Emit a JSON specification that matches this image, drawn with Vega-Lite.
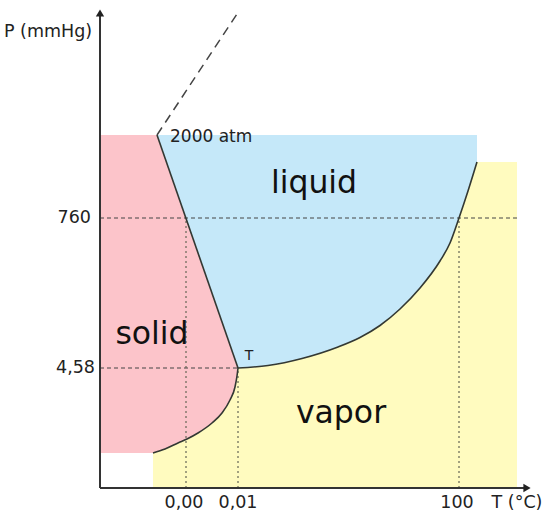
{
  "$schema": "https://vega.github.io/schema/vega-lite/v6.json",
  "width": 550,
  "height": 518,
  "autosize": {"type": "none"},
  "padding": 0,
  "background": "white",
  "config": {"view": {"stroke": null}, "text": {"font": "DejaVu Sans"}},
  "datasets": {
    "yellow": [{"x1": 53, "x2": 417, "y1": 0, "y2": 326}],
    "pink": [
      {"X": 0, "bottom": 35, "top": 353},
      {"X": 53, "bottom": 35, "top": 353},
      {"X": 65, "bottom": 39, "top": 353},
      {"X": 78, "bottom": 45, "top": 353},
      {"X": 87, "bottom": 49, "top": 353},
      {"X": 98, "bottom": 55, "top": 353},
      {"X": 112, "bottom": 65, "top": 353},
      {"X": 122, "bottom": 75, "top": 353},
      {"X": 130, "bottom": 88, "top": 353},
      {"X": 135, "bottom": 101, "top": 353},
      {"X": 137, "bottom": 112, "top": 353},
      {"X": 138, "bottom": 120, "top": 353}
    ],
    "blueWedge": [
      {"X": 57, "bottom": 353, "top": 353},
      {"X": 138, "bottom": 120, "top": 353}
    ],
    "blueCurve": [
      {"X": 138, "bottom": 120, "top": 353},
      {"X": 168, "bottom": 122.5, "top": 353},
      {"X": 202, "bottom": 129.5, "top": 353},
      {"X": 238, "bottom": 141, "top": 353},
      {"X": 260, "bottom": 150.5, "top": 353},
      {"X": 280, "bottom": 162.5, "top": 353},
      {"X": 300, "bottom": 179, "top": 353},
      {"X": 320, "bottom": 200, "top": 353},
      {"X": 340, "bottom": 227, "top": 353},
      {"X": 350, "bottom": 245, "top": 353},
      {"X": 359, "bottom": 270, "top": 353},
      {"X": 368, "bottom": 297, "top": 353},
      {"X": 377, "bottom": 326, "top": 353}
    ],
    "curves": [
      {"curve": "solid-liquid", "X": 57, "Y": 353},
      {"curve": "solid-liquid", "X": 138, "Y": 120},
      {"curve": "solid-vapor", "X": 53, "Y": 35},
      {"curve": "solid-vapor", "X": 65, "Y": 39},
      {"curve": "solid-vapor", "X": 78, "Y": 45},
      {"curve": "solid-vapor", "X": 87, "Y": 49},
      {"curve": "solid-vapor", "X": 98, "Y": 55},
      {"curve": "solid-vapor", "X": 112, "Y": 65},
      {"curve": "solid-vapor", "X": 122, "Y": 75},
      {"curve": "solid-vapor", "X": 130, "Y": 88},
      {"curve": "solid-vapor", "X": 135, "Y": 101},
      {"curve": "solid-vapor", "X": 137, "Y": 112},
      {"curve": "solid-vapor", "X": 138, "Y": 120},
      {"curve": "liquid-vapor", "X": 138, "Y": 120},
      {"curve": "liquid-vapor", "X": 168, "Y": 122.5},
      {"curve": "liquid-vapor", "X": 202, "Y": 129.5},
      {"curve": "liquid-vapor", "X": 238, "Y": 141},
      {"curve": "liquid-vapor", "X": 260, "Y": 150.5},
      {"curve": "liquid-vapor", "X": 280, "Y": 162.5},
      {"curve": "liquid-vapor", "X": 300, "Y": 179},
      {"curve": "liquid-vapor", "X": 320, "Y": 200},
      {"curve": "liquid-vapor", "X": 340, "Y": 227},
      {"curve": "liquid-vapor", "X": 350, "Y": 245},
      {"curve": "liquid-vapor", "X": 359, "Y": 270},
      {"curve": "liquid-vapor", "X": 368, "Y": 297},
      {"curve": "liquid-vapor", "X": 377, "Y": 326}
    ],
    "hdash": [
      {"x1": 0, "x2": 417, "y1": 270, "y2": 270},
      {"x1": 0, "x2": 138, "y1": 120, "y2": 120}
    ],
    "vdot": [
      {"x1": 86, "x2": 86, "y1": 0, "y2": 270},
      {"x1": 138, "x2": 138, "y1": 0, "y2": 120},
      {"x1": 359, "x2": 359, "y1": 0, "y2": 270}
    ],
    "diag": [{"x1": 57, "x2": 137, "y1": 353, "y2": 474}],
    "axes": [
      {"x1": 0, "x2": 0, "y1": 0, "y2": 472},
      {"x1": 0, "x2": 424, "y1": 0, "y2": 0}
    ],
    "arrows": [
      {"X": 0, "Y": 475, "shape": "triangle-up"},
      {"X": 427, "Y": 0, "shape": "triangle-right"}
    ],
    "labelsRight": [
      {"X": -9, "Y": 270, "label": "760"},
      {"X": -5, "Y": 120, "label": "4,58"}
    ],
    "labelsCenter": [
      {"X": -52, "Y": 456, "label": "P (mmHg)"},
      {"X": 84, "Y": -15, "label": "0,00"},
      {"X": 138, "Y": -15, "label": "0,01"},
      {"X": 357, "Y": -15, "label": "100"},
      {"X": 417, "Y": -15, "label": "T (°C)"}
    ],
    "phases": [
      {"X": 214, "Y": 295, "label": "liquid"},
      {"X": 52, "Y": 144, "label": "solid"},
      {"X": 241, "Y": 65, "label": "vapor"}
    ]
  },
  "layer": [
    {
      "data": {"name": "yellow"},
      "mark": {"type": "rect", "color": "#fffbbf"},
      "encoding": {
        "x": {"field": "x1", "type": "quantitative", "scale": {"domain": [-100, 450], "nice": false, "zero": false}, "axis": null},
        "x2": {"field": "x2"},
        "y": {"field": "y1", "type": "quantitative", "scale": {"domain": [-30, 488], "nice": false, "zero": false}, "axis": null},
        "y2": {"field": "y2"}
      }
    },
    {
      "data": {"name": "pink"},
      "mark": {"type": "area", "color": "#fcc4ca", "interpolate": "monotone"},
      "encoding": {
        "x": {"field": "X", "type": "quantitative"},
        "y": {"field": "bottom", "type": "quantitative"},
        "y2": {"field": "top"}
      }
    },
    {
      "data": {"name": "blueWedge"},
      "mark": {"type": "area", "color": "#c5e8f9"},
      "encoding": {
        "x": {"field": "X", "type": "quantitative"},
        "y": {"field": "bottom", "type": "quantitative"},
        "y2": {"field": "top"}
      }
    },
    {
      "data": {"name": "blueCurve"},
      "mark": {"type": "area", "color": "#c5e8f9", "interpolate": "monotone"},
      "encoding": {
        "x": {"field": "X", "type": "quantitative"},
        "y": {"field": "bottom", "type": "quantitative"},
        "y2": {"field": "top"}
      }
    },
    {
      "data": {"name": "hdash"},
      "mark": {"type": "rule", "color": "#444444", "strokeWidth": 1, "strokeDash": [4, 3]},
      "encoding": {
        "x": {"field": "x1", "type": "quantitative"},
        "x2": {"field": "x2"},
        "y": {"field": "y1", "type": "quantitative"},
        "y2": {"field": "y2"}
      }
    },
    {
      "data": {"name": "vdot"},
      "mark": {"type": "rule", "color": "#666655", "strokeWidth": 1.2, "strokeDash": [2, 3]},
      "encoding": {
        "x": {"field": "x1", "type": "quantitative"},
        "x2": {"field": "x2"},
        "y": {"field": "y1", "type": "quantitative"},
        "y2": {"field": "y2"}
      }
    },
    {
      "data": {"name": "diag"},
      "mark": {"type": "rule", "color": "#444444", "strokeWidth": 1.5, "strokeDash": [9, 6]},
      "encoding": {
        "x": {"field": "x1", "type": "quantitative"},
        "x2": {"field": "x2"},
        "y": {"field": "y1", "type": "quantitative"},
        "y2": {"field": "y2"}
      }
    },
    {
      "data": {"name": "curves"},
      "mark": {"type": "line", "color": "#333833", "strokeWidth": 1.6, "interpolate": "monotone"},
      "encoding": {
        "x": {"field": "X", "type": "quantitative"},
        "y": {"field": "Y", "type": "quantitative"},
        "detail": {"field": "curve", "type": "nominal"},
        "order": {"field": "X", "type": "quantitative"}
      }
    },
    {
      "data": {"name": "axes"},
      "mark": {"type": "rule", "color": "#333333", "strokeWidth": 2},
      "encoding": {
        "x": {"field": "x1", "type": "quantitative"},
        "x2": {"field": "x2"},
        "y": {"field": "y1", "type": "quantitative"},
        "y2": {"field": "y2"}
      }
    },
    {
      "data": {"name": "arrows"},
      "mark": {"type": "point", "filled": true, "color": "#222222", "size": 70, "opacity": 1},
      "encoding": {
        "x": {"field": "X", "type": "quantitative"},
        "y": {"field": "Y", "type": "quantitative"},
        "shape": {"field": "shape", "type": "nominal", "scale": null}
      }
    },
    {
      "data": {"name": "labelsRight"},
      "mark": {"type": "text", "align": "right", "baseline": "middle", "fontSize": 17.5, "color": "#222222"},
      "encoding": {
        "x": {"field": "X", "type": "quantitative"},
        "y": {"field": "Y", "type": "quantitative"},
        "text": {"field": "label", "type": "nominal"}
      }
    },
    {
      "data": {"name": "labelsCenter"},
      "mark": {"type": "text", "align": "center", "baseline": "middle", "fontSize": 17.5, "color": "#222222"},
      "encoding": {
        "x": {"field": "X", "type": "quantitative"},
        "y": {"field": "Y", "type": "quantitative"},
        "text": {"field": "label", "type": "nominal"}
      }
    },
    {
      "data": {"values": [{"X": 70, "Y": 351, "label": "2000 atm"}]},
      "mark": {"type": "text", "align": "left", "baseline": "middle", "fontSize": 17, "color": "#222222"},
      "encoding": {
        "x": {"field": "X", "type": "quantitative"},
        "y": {"field": "Y", "type": "quantitative"},
        "text": {"field": "label", "type": "nominal"}
      }
    },
    {
      "data": {"values": [{"X": 149, "Y": 128, "label": "T"}]},
      "mark": {"type": "text", "align": "center", "baseline": "alphabetic", "fontSize": 14, "color": "#222222"},
      "encoding": {
        "x": {"field": "X", "type": "quantitative"},
        "y": {"field": "Y", "type": "quantitative"},
        "text": {"field": "label", "type": "nominal"}
      }
    },
    {
      "data": {"name": "phases"},
      "mark": {"type": "text", "align": "center", "baseline": "alphabetic", "fontSize": 31.5, "color": "#111111"},
      "encoding": {
        "x": {"field": "X", "type": "quantitative"},
        "y": {"field": "Y", "type": "quantitative"},
        "text": {"field": "label", "type": "nominal"}
      }
    }
  ]
}
